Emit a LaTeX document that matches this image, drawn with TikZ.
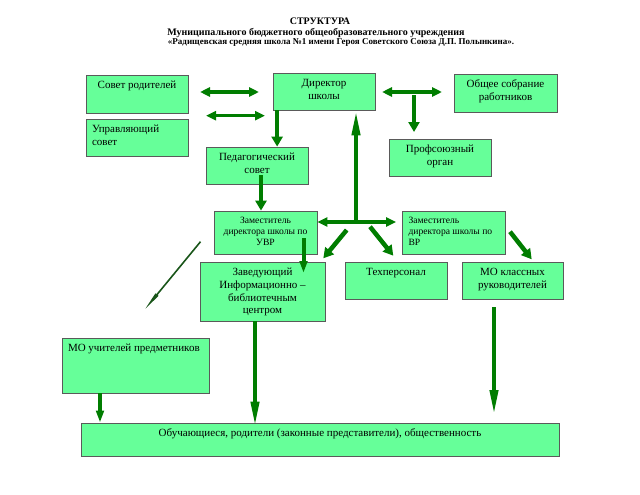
\documentclass[tikz,border=0pt]{standalone}
\usepackage{fontspec}
\setmainfont{Liberation Serif}
\usetikzlibrary{arrows.meta,calc}
\definecolor{boxgreen}{RGB}{102,255,153}
\definecolor{boxedge}{RGB}{90,90,90}
\definecolor{arrowgreen}{RGB}{0,125,0}
\definecolor{thingreen}{RGB}{25,85,25}
\newcommand{\cellC}[3]{\parbox[c][#2][t]{#1}{\centering\strut #3}}
\newcommand{\cellL}[3]{\parbox[c][#2][t]{#1}{\raggedright\leftskip=2pt\strut #3}}

\begin{document}
\begin{tikzpicture}[
  x=1pt,y=-1pt,
  box/.style={draw=boxedge,line width=0.75pt,fill=boxgreen,inner xsep=4pt,inner ysep=5pt,font=\fontsize{11}{12.6}\selectfont},
  small/.style={font=\fontsize{9.6}{10.8}\selectfont},
  ttl/.style={font=\fontsize{10}{10}\selectfont\bfseries,anchor=base,inner sep=0pt},
  ar/.style={-{Triangle[length=10pt,width=11pt]},line width=4.5pt,arrowgreen},
  arn/.style={-{Triangle[length=12pt,width=7.5pt]},line width=4pt,arrowgreen},
  arl/.style={-{Triangle[length=25pt,width=8pt]},line width=4pt,arrowgreen},
  dar/.style={{Triangle[length=10pt,width=9pt]}-{Triangle[length=10pt,width=9pt]},line width=3.5pt,arrowgreen},
  thin/.style={-{Triangle[length=20pt,width=3.5pt]},line width=1.6pt,thingreen}
]
\useasboundingbox (0,0) rectangle (640,495);

% TITLE
\node[ttl] (title1) at (320,24.3) {СТРУКТУРА};
\node[ttl] (title2) at (316,35.5) {Муниципального бюджетного общеобразовательного учреждения};
\node[ttl,font=\fontsize{9}{10}\selectfont\bfseries] (title3) at (341,45) {«Радищевская средняя школа №1 имени Героя Советского Союза Д.П. Полынкина».};

% TOP ROW
\node[box] (sovet) at (137,94)    {\cellC{94pt}{28pt}{Совет родителей}};
\node[box] (upr)   at (137,137.5) {\cellL{94pt}{27pt}{Управляющий\\совет}};
\node[box] (dir)   at (324,91.5)  {\cellC{94pt}{27pt}{Директор\\школы}};
\node[box] (obsch) at (505.5,93)  {\cellC{95pt}{28pt}{Общее собрание\\работников}};
\node[box] (prof)  at (440,157.5) {\cellC{94pt}{27pt}{Профсоюзный\\орган}};
\node[box] (ped)   at (257,165.5) {\cellC{94pt}{27pt}{Педагогический\\совет}};

% DEPUTIES
\node[box,small] (zuvr) at (265.5,232.5) {\cellC{95pt}{33pt}{Заместитель\\директора школы по\\УВР}};
\node[box,small] (zvr)  at (454,232.5)   {\cellL{95pt}{33pt}{Заместитель\\директора школы по\\ВР}};

% THIRD ROW
\node[box] (ibc)  at (262.5,291.5) {\cellC{117pt}{49pt}{Заведующий\\Информационно –\\библиотечным\\центром}};
\node[box] (tech) at (396,280.5)   {\cellC{94pt}{27pt}{Техперсонал}};
\node[box] (mok)  at (512.5,280.5) {\cellC{93pt}{27pt}{МО классных\\руководителей}};
\node[box] (mou)  at (135.5,365.5) {\cellL{139pt}{45pt}{МО учителей предметников}};

% BOTTOM
\node[box] (obuch) at (320,439.5) {\cellC{470pt}{23pt}{Обучающиеся, родители (законные представители), общественность}};

% free ends
\coordinate (d1a) at (200,92);    \coordinate (d1b) at (259,92);
\coordinate (d2a) at (206,115.7); \coordinate (d2b) at (265,115.7);
\coordinate (d3a) at (382,92);    \coordinate (d3b) at (442,92);
\coordinate (pf1) at (414,95);    \coordinate (pf2) at (414,132);
\coordinate (hub) at (356,222);
\coordinate (dg1a) at (346.7,230); \coordinate (dg1b) at (323.3,258.3);
\coordinate (dg2a) at (370,226.7); \coordinate (dg2b) at (393.3,255.7);
\coordinate (u1) at (303.5,238);  \coordinate (u2) at (303.5,273);
\coordinate (v1) at (510,231.7);  \coordinate (v2) at (531.7,259.3);
\coordinate (t1) at (200.5,241.7); \coordinate (t2) at (144.3,310);
\coordinate (m1) at (494,307);    \coordinate (m2) at (494,415);

\draw[dar] (d1a) -- (d1b);
\draw[dar] (d2a) -- (d2b);
\draw[dar] (d3a) -- (d3b);
\draw[ar] (pf1) -- (pf2);
\draw[ar] ([xshift=4.5pt]dir.south west) -- ([xshift=4.5pt]dir.south west |- ped.north);
\draw[arl] (hub) -- (hub |- dir.south);
\draw[dar] (hub -| zuvr.east) -- ([xshift=-6pt]hub -| zvr.west);
\draw[ar] (dg1a) -- (dg1b);
\draw[ar] (dg2a) -- (dg2b);
\draw[ar] ([shift={(4pt,9pt)}]ped.south) -- ([xshift=4pt]ped.south |- zuvr.north);
\draw[arn] (u1) -- (u2);
\draw[ar] (v1) -- (v2);
\draw[thin] (t1) -- (t2);
\draw[arl] ([xshift=-7.5pt]ibc.south) -- ([shift={(-7.5pt,-4pt)}]ibc.south |- obuch.north);
\draw[arl] (m1) -- (m2);
\draw[arn] ([xshift=-35.5pt]mou.south) -- ([xshift=-35.5pt]mou.south |- obuch.north);

\end{tikzpicture}
\end{document}
